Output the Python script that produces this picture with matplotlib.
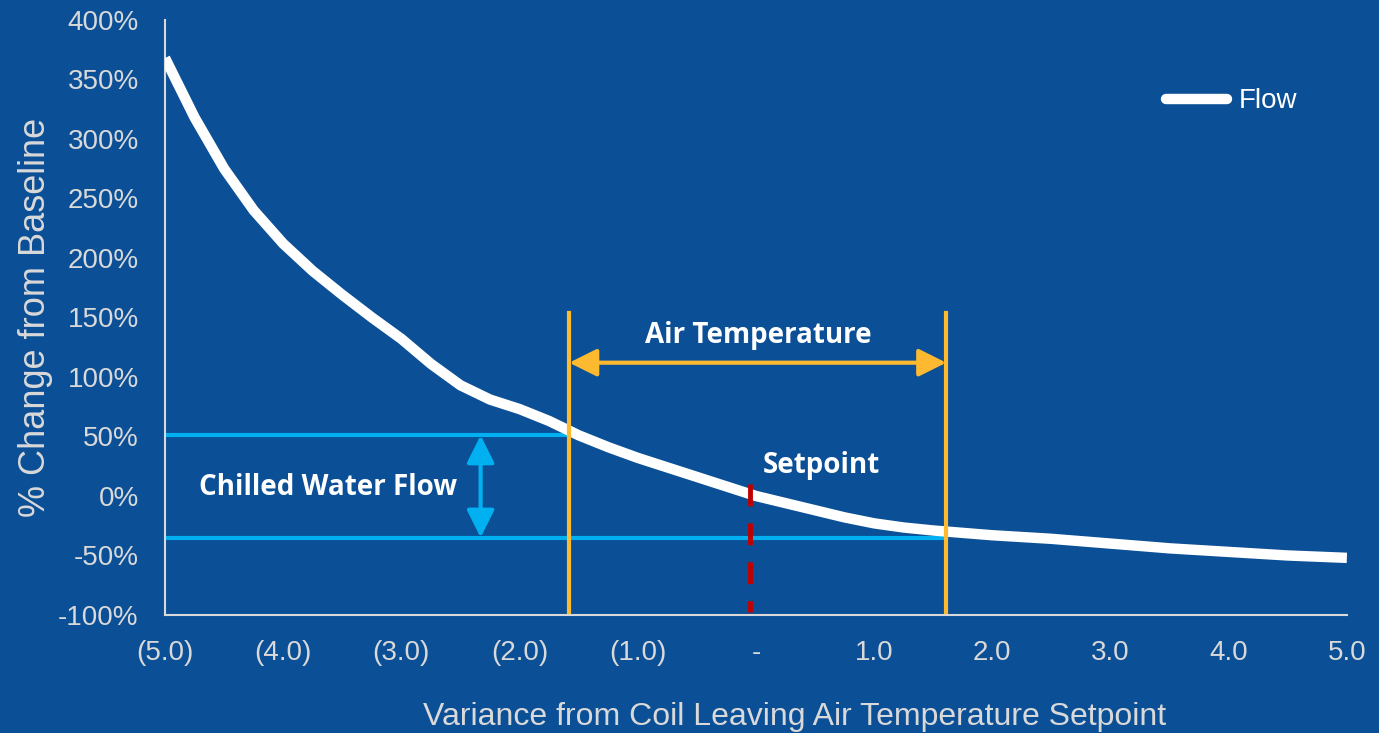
import matplotlib
matplotlib.use("Agg")
import matplotlib.pyplot as plt

# Flow curve (% change vs. variance from setpoint)
variance = [-5.0, -4.75, -4.5, -4.25, -4.0, -3.75, -3.5, -3.25, -3.0, -2.75,
            -2.5, -2.25, -2.0, -1.75, -1.5, -1.25, -1.0, -0.75, -0.5, -0.25,
            0.0, 0.25, 0.5, 0.75, 1.0, 1.25, 1.5, 1.75, 2.0, 2.5,
            3.0, 3.5, 4.0, 4.5, 5.0]
flow = [368, 318, 275, 240, 212, 189, 169, 150, 132, 111,
        93, 81, 73, 63, 51, 41, 32, 24, 16, 8,
        0, -6, -12, -18, -23, -26.5, -29, -31, -33, -36,
        -40, -44, -47, -50, -52]

x_ticks = [-5, -4, -3, -2, -1, 0, 1, 2, 3, 4, 5]
x_tick_labels = ["(5.0)", "(4.0)", "(3.0)", "(2.0)", "(1.0)", "-",
                 "1.0", "2.0", "3.0", "4.0", "5.0"]
y_ticks = [-100, -50, 0, 50, 100, 150, 200, 250, 300, 350, 400]

# annotation values
air_band = (-1.58, 1.61)      # air temperature band edges
water_band = (51, -35)        # chilled water flow band (%)
setpoint_x = -0.05
water_arrow_x = -2.33

bg = "#0B4F96"
grey = "#D9D9D9"
orange = "#FDBA30"
cyan = "#00B0F0"
red = "#C00000"

plt.rcParams['font.family'] = ['Liberation Sans', 'DejaVu Sans']

fig = plt.figure(figsize=(13.79, 7.33), dpi=100, facecolor=bg)
ax = fig.add_axes([0.1197, 0.161, 0.857, 0.8118], facecolor=bg)

# chilled water band lines
ax.plot([-5, air_band[0]], [water_band[0]] * 2, color=cyan, lw=3, zorder=2)
ax.plot([-5, air_band[1]], [water_band[1]] * 2, color=cyan, lw=3, zorder=2)

# main curve
ax.plot(variance, flow, color="white", lw=7.5, solid_capstyle="butt",
        solid_joinstyle="round", label="Flow", zorder=3)

# air temperature band lines
for xb in air_band:
    ax.plot([xb, xb], [-97.5, 154], color=orange, lw=3, zorder=4)

# setpoint dashed line
ax.plot([setpoint_x, setpoint_x], [10, -97.5], color=red, lw=3.5,
        dashes=(4.5, 3.5), zorder=4)

# arrows
ax.annotate("", xy=(air_band[0], 112), xytext=(air_band[1], 112),
            arrowprops=dict(arrowstyle="<|-|>", color=orange, lw=3,
                            mutation_scale=42, shrinkA=0, shrinkB=0), zorder=5)
ax.annotate("", xy=(water_arrow_x, water_band[0]), xytext=(water_arrow_x, water_band[1]),
            arrowprops=dict(arrowstyle="<|-|>", color=cyan, lw=3,
                            mutation_scale=42, shrinkA=0, shrinkB=0), zorder=5)

bold = dict(color="white", fontsize=20, fontweight="bold",
            family=["Open Sans", "DejaVu Sans"], ha="center", va="center")
ax.text(0.02, 135, "Air Temperature", **bold)
ax.text(0.55, 26, "Setpoint", **bold)
ax.text(-3.62, 7, "Chilled Water Flow", **bold)

ax.set_xlim(-5, 5)
ax.set_ylim(-100, 400)
ax.set_xticks(x_ticks)
ax.set_xticklabels(x_tick_labels)
ax.set_yticks(y_ticks)
ax.set_yticklabels([f"{v}%" for v in y_ticks])
ax.tick_params(length=0, colors=grey, labelsize=20)
ax.tick_params(axis="x", pad=18)
ax.tick_params(axis="y", pad=19)

for side in ["top", "right"]:
    ax.spines[side].set_visible(False)
for side in ["left", "bottom"]:
    ax.spines[side].set_color(grey)
    ax.spines[side].set_linewidth(1.5)

ax.set_xlabel("Variance from Coil Leaving Air Temperature Setpoint",
              color=grey, fontsize=23, va="center")
ax.xaxis.set_label_coords(0.533, -0.172)
ax.set_ylabel("% Change from Baseline", color=grey, fontsize=26, labelpad=4)

leg = ax.legend(loc="upper right", bbox_to_anchor=(0.979, 0.927), frameon=False,
                fontsize=20, handlelength=2.2, handletextpad=0.4)
for t in leg.get_texts():
    t.set_color("white")
for h in leg.get_lines():
    h.set_solid_capstyle("round")

fig.savefig("out.png", dpi=100, facecolor=bg)
